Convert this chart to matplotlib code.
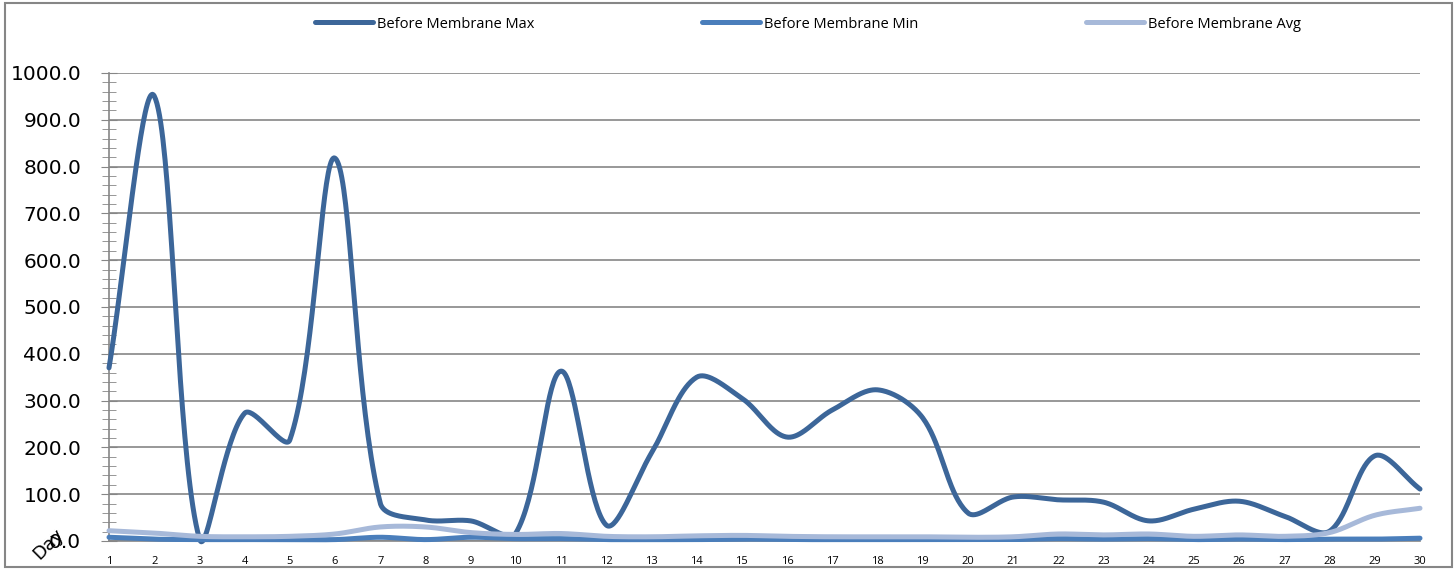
"""
Before-membrane readings per day (max / min / avg), Excel-style smoothed lines.
"""
import matplotlib
matplotlib.use("Agg")
import matplotlib.pyplot as plt
import numpy as np
from matplotlib.patches import Rectangle
from matplotlib.ticker import MultipleLocator

days = list(range(1, 31))
max_vals = [370, 951, 5, 273, 216, 818, 81, 45, 43, 17,
            363, 34, 188, 350, 305, 222, 280, 323, 263, 60,
            94, 88, 83, 43, 68, 85, 53, 21, 182, 111]
min_vals = [8, 4, 3, 3, 3, 3, 8, 3, 8, 5,
            5, 3, 3, 3, 4, 3, 3, 3, 3, 3,
            3, 5, 4, 5, 3, 4, 3, 4, 4, 6]
avg_vals = [22, 17, 10, 9, 10, 15, 30, 30, 18, 14,
            16, 10, 9, 11, 12, 10, 9, 9, 9, 8,
            9, 15, 13, 15, 10, 13, 10, 18, 55, 70]
series_names = ["Before Membrane Max", "Before Membrane Min", "Before Membrane Avg"]
colors = ["#3C6699", "#4A7EBB", "#A7B9D9"]

# screen scale used only to weight the smoothing (px per day, px per unit)
SX, SY = 45.2, 0.468


def smooth(x, y, n=40, f=1 / 6):
    """Excel-like 'smoothed line': bezier with control arms scaled by segment length."""
    x = np.asarray(x, float)
    y = np.asarray(y, float)
    pts = np.column_stack([x * SX, y * SY])
    m = len(pts)
    out = [pts[0]]
    for i in range(m - 1):
        p0 = pts[max(i - 1, 0)]
        p1 = pts[i]
        p2 = pts[i + 1]
        p3 = pts[min(i + 2, m - 1)]
        d01 = np.hypot(*(p1 - p0))
        d12 = np.hypot(*(p2 - p1))
        d23 = np.hypot(*(p3 - p2))
        c1 = p1 + 2 * f * (p2 - p0) * (d12 / (d01 + d12) if d01 + d12 else 0)
        c2 = p2 - 2 * f * (p3 - p1) * (d12 / (d12 + d23) if d12 + d23 else 0)
        t = np.linspace(0, 1, n)[1:, None]
        seg = ((1 - t) ** 3 * p1 + 3 * (1 - t) ** 2 * t * c1
               + 3 * (1 - t) * t ** 2 * c2 + t ** 3 * p2)
        out.extend(seg)
    out = np.array(out)
    return out[:, 0] / SX, out[:, 1] / SY


fig = plt.figure(figsize=(14.55, 5.70), dpi=100)
ax = fig.add_axes([109 / 1455, 29 / 570, 1311 / 1455, 468 / 570])

for vals, name, col in zip([max_vals, min_vals, avg_vals], series_names, colors):
    sx, sy = smooth(days, vals)
    ax.plot(sx, sy, color=col, lw=3.6, label=name, solid_capstyle="round",
            clip_on=False, zorder=3)

ax.set_xlim(1, 30)
ax.set_ylim(0, 1000)
ax.set_xticks(days)
ax.set_xticklabels([str(d) for d in days], fontsize=8, family="Open Sans")
ax.yaxis.set_minor_locator(MultipleLocator(20))
ax.set_yticks(np.arange(0, 1001, 100))
ax.set_yticklabels([f"{v:.1f}" for v in np.arange(0, 1001, 100)], fontsize=14.5)
ax.tick_params(axis="y", which="major", direction="inout", length=12, color="#868686", pad=14)
ax.tick_params(axis="y", which="minor", direction="inout", length=10, color="#868686")
ax.tick_params(axis="x", length=0, pad=11)
ax.grid(axis="y", color="#868686", lw=1.2)
ax.set_axisbelow(True)
for s in ["top", "right"]:
    ax.spines[s].set_visible(False)
for s in ["left", "bottom"]:
    ax.spines[s].set_color("#868686")
    ax.spines[s].set_linewidth(1.2)

fig.text(48 / 1455, 1 - 544 / 570, "Day", rotation=45, fontsize=13,
         ha="center", va="center")

fig.legend(loc="center", bbox_to_anchor=(0.555, 1 - 24 / 570), ncol=3,
           frameon=False, handlelength=4.0, handletextpad=0.25,
           columnspacing=11.5, prop={"family": "Open Sans", "size": 10.5})

fig.patches.append(Rectangle((5 / 1455, 3 / 570), 1 - 8 / 1455, 1 - 6 / 570,
                             transform=fig.transFigure, fill=False,
                             edgecolor="#868686", lw=1.5))

fig.savefig("out.png", dpi=100)
